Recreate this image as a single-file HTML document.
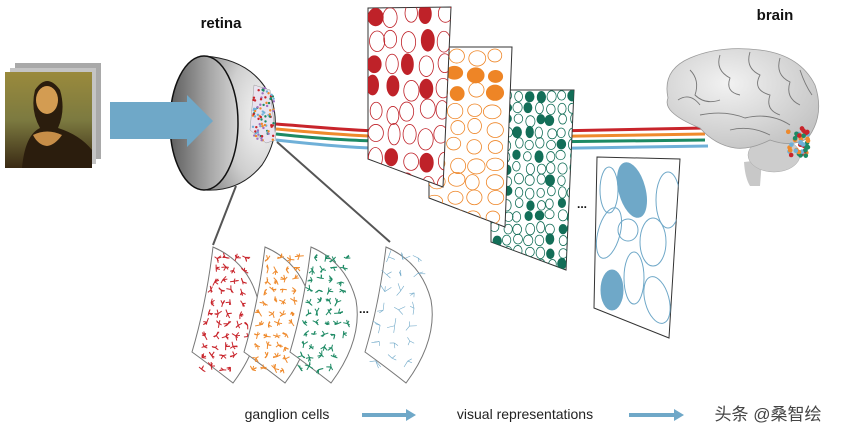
<!DOCTYPE html>
<html><head><meta charset="utf-8"><style>
html,body{margin:0;padding:0;background:#fff;width:845px;height:435px;overflow:hidden}
svg{display:block}
text{font-family:"Liberation Sans","Noto Sans CJK SC",sans-serif}
</style></head><body>
<svg id="s" width="845" height="435" viewBox="0 0 845 435" xmlns="http://www.w3.org/2000/svg">
<defs>
<radialGradient id="dome" cx="0.8" cy="0.45" r="0.8"><stop offset="0" stop-color="#f6f6f6"/><stop offset="0.6" stop-color="#cfcfcf"/><stop offset="1" stop-color="#9a9a9a"/></radialGradient>
<linearGradient id="face" x1="0" y1="0" x2="1" y2="0"><stop offset="0" stop-color="#5e5e5e"/><stop offset="0.6" stop-color="#a8a8a8"/><stop offset="1" stop-color="#d4d4d4"/></linearGradient>
<radialGradient id="brainG" cx="0.4" cy="0.35" r="0.7"><stop offset="0" stop-color="#f2f2f2"/><stop offset="1" stop-color="#c4c4c4"/></radialGradient>
<linearGradient id="sky" x1="0" y1="0" x2="0" y2="1"><stop offset="0" stop-color="#9a8a3c"/><stop offset="0.5" stop-color="#7c7a40"/><stop offset="1" stop-color="#3a2a14"/></linearGradient>
<clipPath id="cR"><polygon points="368,8 451,7 443,187 368,159"/></clipPath>
<clipPath id="cO"><polygon points="429,47 512,47 505,227 429,198"/></clipPath>
<clipPath id="cG"><polygon points="491,90 574,90 566,270 491,242"/></clipPath>
<clipPath id="cB"><polygon points="597,157 680,159 669,338 594,308"/></clipPath>
</defs>

<rect x="15" y="63" width="86" height="96" fill="#a9a9a9"/>
<rect x="10" y="68" width="86" height="96" fill="#c4c4c4"/>
<rect x="5" y="72" width="87" height="96" fill="url(#sky)"/>
<path d="M22,168 Q25,135 40,128 Q30,110 35,90 Q47,72 60,90 Q66,110 58,128 Q80,135 92,150 L92,168 Z" fill="#2b1d0d"/>
<ellipse cx="47" cy="100" rx="11" ry="14" fill="#d39c52"/>
<path d="M33,135 Q47,128 62,135 Q55,145 47,146 Q38,145 33,135 Z" fill="#c78e48"/>

<text x="221" y="28" font-size="15" font-weight="bold" text-anchor="middle" fill="#111">retina</text>
<text x="775" y="20" font-size="15" font-weight="bold" text-anchor="middle" fill="#111">brain</text>

<g fill="none" stroke-width="3">
<path d="M276,124 C330,128 360,132 450,133 L705,128" stroke="#c8242b"/>
<path d="M276,129 C330,134 360,137 450,138 L705,134" stroke="#ef8a2c"/>
<path d="M276,134 C330,140 360,141 450,143 L705,140" stroke="#1d8a64"/>
<path d="M276,140 C330,146 360,149 450,150 L708,146" stroke="#6fb0d8"/>
</g>

<path d="M205,56 Q255,60 272,100 Q282,135 262,165 Q240,192 205,190 Z" fill="url(#dome)" stroke="#222" stroke-width="1"/>
<ellipse cx="204" cy="123" rx="34" ry="67" fill="url(#face)" stroke="#111" stroke-width="1.5"/>
<polygon points="254,85 270,90 276,140 266,143 250,130" fill="#e9e3ef" stroke="#999" stroke-width="0.5"/>
<g id="patch"></g>
<line x1="236" y1="186" x2="213" y2="245" stroke="#555" stroke-width="2"/>
<line x1="277" y1="142" x2="390" y2="242" stroke="#555" stroke-width="2"/>

<polygon points="110,102 187,102 187,95 213,121 187,147 187,139 110,139" fill="#6fa8c8"/>

<polygon points="491,90 574,90 566,270 491,242" fill="#fff" stroke="#333" stroke-width="1"/>
<g id="gG" clip-path="url(#cG)"></g>
<polygon points="429,47 512,47 505,227 429,198" fill="#fff" stroke="#333" stroke-width="1"/>
<g id="gO" clip-path="url(#cO)"></g>
<polygon points="368,8 451,7 443,187 368,159" fill="#fff" stroke="#333" stroke-width="1"/>
<g id="gR" clip-path="url(#cR)"></g>
<polygon points="597,157 680,159 669,338 594,308" fill="#fff" stroke="#333" stroke-width="1"/>
<g clip-path="url(#cB)" fill="none" stroke="#6fa8c8" stroke-width="1">
<ellipse cx="609" cy="190" rx="9" ry="23"/>
<ellipse cx="632" cy="190" rx="13" ry="28" fill="#6fa8c8" transform="rotate(-15 632 190)"/>
<ellipse cx="668" cy="200" rx="12" ry="28"/>
<ellipse cx="609" cy="233" rx="11" ry="26" transform="rotate(15 609 233)"/>
<ellipse cx="628" cy="230" rx="10" ry="11"/>
<ellipse cx="653" cy="242" rx="13" ry="24"/>
<ellipse cx="612" cy="290" rx="11" ry="20" fill="#6fa8c8"/>
<ellipse cx="634" cy="278" rx="10" ry="26"/>
<ellipse cx="657" cy="300" rx="12" ry="24" transform="rotate(-15 657 300)"/>
</g>
<text x="582" y="208" font-size="12" font-weight="bold" fill="#111" text-anchor="middle">...</text>

<g>
<path d="M744,162 Q745,178 750,186 L760,186 L762,160 Z" fill="#c8c8c8"/>
<ellipse cx="774" cy="155" rx="26" ry="17" fill="#cdcdcd" stroke="#aaa" stroke-width="0.5"/>
<path d="M668,98 Q662,70 690,58 Q720,45 760,50 Q800,55 815,85 Q825,115 808,138 Q792,148 770,140 Q750,150 735,148 Q715,145 700,128 Q680,120 672,112 Q665,105 668,98 Z" fill="url(#brainG)" stroke="#9a9a9a" stroke-width="0.8"/>
<g fill="none" stroke="#777" stroke-width="0.9">
<path d="M690,70 Q700,80 695,95 Q705,105 720,100"/>
<path d="M720,55 Q715,70 730,78 Q725,92 740,95"/>
<path d="M750,52 Q745,68 760,75 Q752,90 770,95 Q765,110 780,115"/>
<path d="M780,58 Q775,75 790,82 Q785,98 800,105"/>
<path d="M700,115 Q725,110 745,118 Q770,112 790,125"/>
<path d="M678,100 Q690,92 700,105"/>
<path d="M730,130 Q750,125 770,135"/>
<path d="M800,70 Q805,85 812,95"/>
</g>
<g id="bpatch"></g>
</g>

<g id="sheets"></g>
<text x="364" y="313" font-size="12" font-weight="bold" fill="#111" text-anchor="middle">...</text>

<text x="287" y="419" font-size="14" fill="#222" text-anchor="middle">ganglion cells</text>
<line x1="362" y1="415" x2="408" y2="415" stroke="#6fa8c8" stroke-width="4"/>
<polygon points="406,409 416,415 406,421" fill="#6fa8c8"/>
<text x="525" y="419" font-size="14" fill="#222" text-anchor="middle">visual representations</text>
<line x1="629" y1="415" x2="676" y2="415" stroke="#6fa8c8" stroke-width="4"/>
<polygon points="674,409 684,415 674,421" fill="#6fa8c8"/>
<text x="768" y="420" font-size="17" fill="#444" text-anchor="middle">头条 @桑智绘</text>
</svg>
<script>
var NS="http://www.w3.org/2000/svg";var seed=7;function r(){seed=(seed*16807)%2147483647;return seed/2147483647;}
function el(p,t,a){var e=document.createElementNS(NS,t);for(var k in a)e.setAttribute(k,a[k]);p.appendChild(e);return e;}
function G(id){return document.getElementById(id);}
function fill(id,x0,x1,y0,y1,stepx,stepy,rx,ry,col,pf){var g=G(id);for(var y=y0;y<y1;y+=stepy)for(var x=x0;x<x1;x+=stepx){var cx=x+(r()-0.5)*stepx*0.3,cy=y+(r()-0.5)*stepy*0.3;var f=r()<pf;el(g,"ellipse",{cx:cx,cy:cy,rx:rx*(0.85+r()*0.25),ry:ry*(0.85+r()*0.25),fill:f?col:"none",stroke:col,"stroke-width":0.8});}}
fill("gG",496,575,96,272,11,12,4.3,5.3,"#136e58",0.3);
fill("gO",437,513,56,228,19,18,8,7,"#ee8526",0.16);
fill("gR",375,452,16,188,17,24,7,10,"#bf2229",0.2);
var cols=["#c8242b","#ef8a2c","#1d8a64","#6fb0d8","#a070c0"];
for(var i=0;i<90;i++){el(G("patch"),"circle",{cx:253+r()*21,cy:88+r()*53,r:1.2,fill:cols[i%5]});}
for(var i=0;i<45;i++){el(G("bpatch"),"circle",{cx:788+r()*22,cy:128+r()*28,r:2.3,fill:cols[i%4]});}
var offs=[[0,"#c8242b"],[52,"#ef8a2c"],[98,"#1d8a64"],[173,"#6fa8c8"]];
offs.forEach(function(o){var d=o[0];var g=document.createElementNS(NS,"g");g.setAttribute("transform","translate("+d+",0)");G("sheets").appendChild(g);
el(g,"path",{d:"M213,247 Q248,262 258,300 Q265,340 233,383 Q210,365 192,352 Q206,305 213,247 Z",fill:"#fff",stroke:"#777","stroke-width":"1"});
var n=d==173?3:5;
for(var y=258;y<375;y+=(d==173?17:11)){var t=(y-247)/136;var xl=213-t*18+5,xr=250+Math.sin(t*3.14)*8-t*10-4;for(var x=xl;x<xr;x+=(d==173?15:10)){var cx=x+(r()-0.5)*4,cy=y+(r()-0.5)*4;var L=d==173?7:4;for(var k=0;k<n;k++){var a=r()*6.28,l=L*(0.6+r()*0.6);el(g,"line",{x1:cx,y1:cy,x2:cx+Math.cos(a)*l,y2:cy+Math.sin(a)*l,stroke:o[1],"stroke-width":d==173?0.6:1});}}}});
</script>
</body></html>
